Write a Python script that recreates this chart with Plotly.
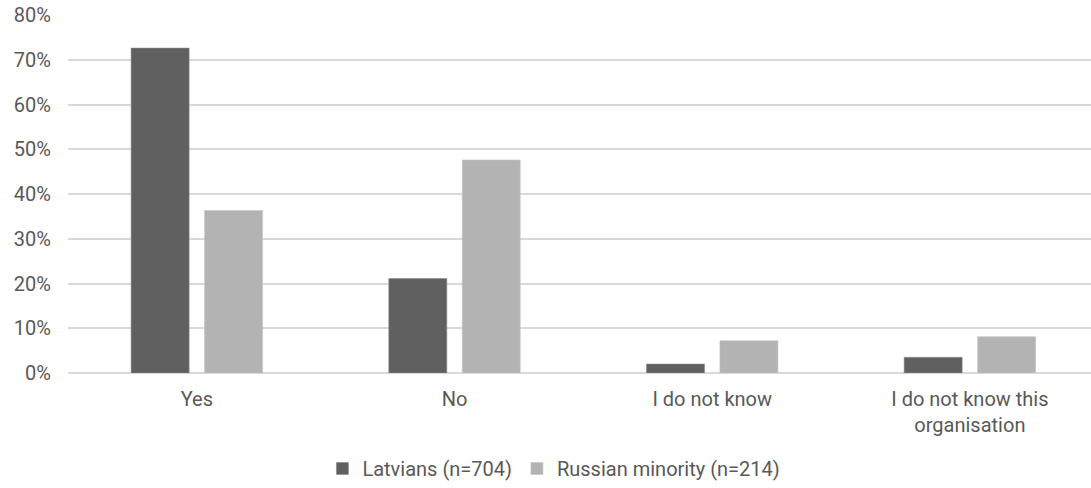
import plotly.graph_objects as go

categories = ["Yes", "No", "I do not know", "I do not know this<br>organisation"]
latvians = [72.6, 21.1, 2.0, 3.5]
russian_minority = [36.3, 47.6, 7.2, 8.1]
y_ticks = [0, 10, 20, 30, 40, 50, 60, 70, 80]
y_tick_labels = [f"{v}%" for v in y_ticks]

font_color = "#595959"

fig = go.Figure()
fig.add_trace(go.Bar(
    x=categories, y=latvians, name="Latvians (n=704)",
    marker=dict(color="#606060", line=dict(color="#8a8a8a", width=0.6)),
))
fig.add_trace(go.Bar(
    x=categories, y=russian_minority, name="Russian minority (n=214)",
    marker=dict(color="#b3b3b3", line=dict(color="#c4c4c4", width=0.6)),
))

fig.update_layout(
    width=1091, height=488,
    margin=dict(l=68, r=0, t=15, b=115, autoexpand=False),
    paper_bgcolor="white", plot_bgcolor="white",
    font=dict(family="Roboto", size=20, color=font_color),
    barmode="group", bargap=0.43, bargroupgap=0.21,
    showlegend=True,
    legend=dict(orientation="h", x=0.475, xanchor="center",
                yref="container", y=0.04, yanchor="middle",
                font=dict(size=20, color=font_color), itemwidth=30,
                traceorder="normal"),
    xaxis=dict(showgrid=False, ticks="", showline=False, range=[-0.5, 3.47],
               ticklabelstandoff=12,
               tickfont=dict(size=20, color=font_color)),
    yaxis=dict(range=[0, 80], tickvals=y_ticks, ticktext=y_tick_labels,
               showgrid=True, gridcolor="#d9d9d9", gridwidth=1.5,
               zeroline=True, zerolinecolor="#d9d9d9", zerolinewidth=1.5,
               showline=False, ticks="", ticklabelstandoff=16,
               tickfont=dict(size=20, color=font_color)),
)

fig.write_html("out.html")
